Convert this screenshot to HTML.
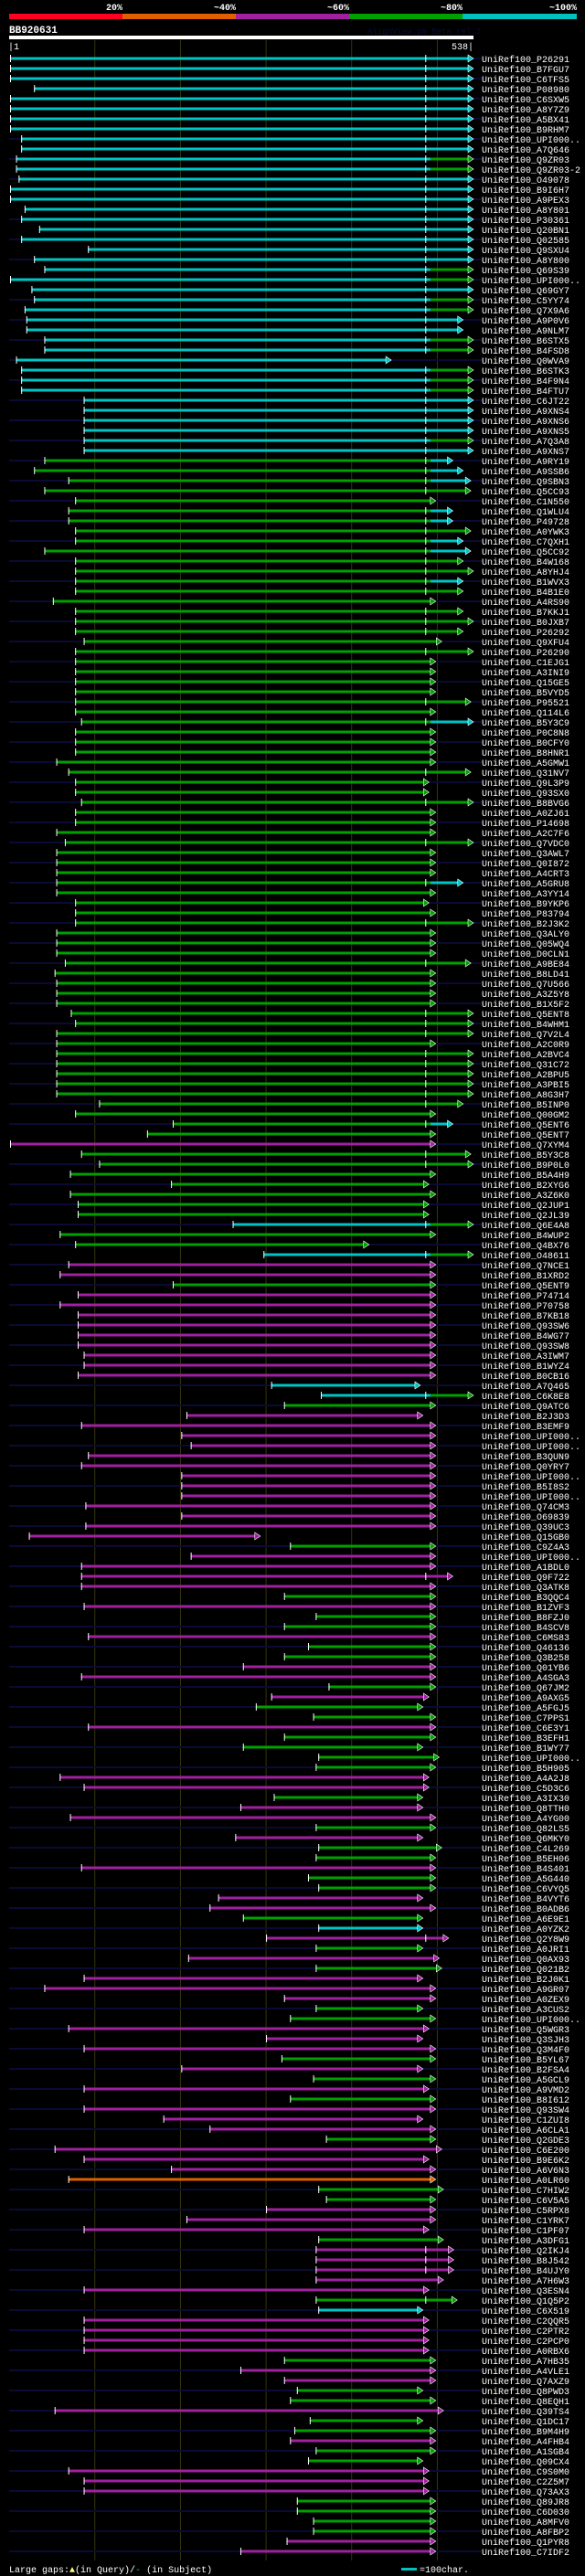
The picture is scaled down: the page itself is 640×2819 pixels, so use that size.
<!DOCTYPE html>
<html><head><meta charset="utf-8"><style>
html,body{margin:0;padding:0;background:#000;}
svg{display:block;}
text{font-family:"Liberation Mono",monospace;}
</style></head><body>
<svg id="chart" width="640" height="2819" viewBox="0 0 640 2819" xmlns="http://www.w3.org/2000/svg">
<rect width="640" height="2819" fill="#000"/>
<g>
<rect x="10" y="15" width="124" height="6" fill="#ff0020"/>
<rect x="134" y="15" width="124" height="6" fill="#e06000"/>
<rect x="258" y="15" width="124" height="6" fill="#a020a0"/>
<rect x="382" y="15" width="124" height="6" fill="#00a000"/>
<rect x="506" y="15" width="125" height="6" fill="#00c0c0"/>
<g fill="#fff" font-weight="bold" font-size="10" text-anchor="end">
<text x="134" y="11">20%</text>
<text x="258" y="11">~40%</text>
<text x="382" y="11">~60%</text>
<text x="506" y="11">~80%</text>
<text x="631" y="11">~100%</text>
</g></g>
<text x="10" y="36" fill="#fff" font-weight="bold" font-size="11">BB920631</text>
<text x="402" y="37" fill="#0a0a40" font-size="9">AlignView.pm Beta rel.7</text>
<rect x="10" y="39" width="508" height="4" fill="#fff"/>
<text x="9" y="54" fill="#fff" font-size="10">|1</text>
<text x="518" y="54" fill="#fff" font-size="10" text-anchor="end">538|</text>
<g id="grid"></g>
<g id="rows"></g>
<g>
<text x="10" y="2815" fill="#fff" font-size="10">Large gaps:<tspan fill="#ffff80">▲</tspan>(in Query)/<tspan fill="#00c0c0">-</tspan> (in Subject)</text>
<rect x="439" y="2810" width="17" height="3" fill="#00c0c0"/>
<text x="459" y="2815" fill="#fff" font-size="10">=100char.</text>
</g>
</svg>
<script>
const names = ["P26291","B7FGU7","C6TFS5","P08980","C6SXW5","A8Y7Z9","A5BX41","B9RHM7","UPI000..","A7Q646","Q9ZR03","Q9ZR03-2","O49078","B9I6H7","A9PEX3","A8Y801","P30361","Q20BN1","Q02585","Q9SXU4","A8Y800","Q69S39","UPI000..","Q69GY7","C5YY74","Q7X9A6","A9P0V6","A9NLM7","B6STX5","B4FSD8","Q0WVA9","B6STK3","B4F9N4","B4FTU7","C6JT22","A9XNS4","A9XNS6","A9XNS5","A7Q3A8","A9XNS7","A9RY19","A9SSB6","Q9SBN3","Q5CC93","C1N550","Q1WLU4","P49728","A0YWK3","C7QXH1","Q5CC92",
"B4W168","A8YHJ4","B1WVX3","B4B1E0","A4RS90","B7KKJ1","B0JXB7","P26292","Q9XFU4","P26290","C1EJG1","A3INI9","Q15GE5","B5VYD5","P95521","Q114L6","B5Y3C9","P0C8N8","B0CFY0","B8HNR1","A5GMW1","Q31NV7","Q9L3P9","Q93SX0","B8BVG6","A0ZJ61","P14698","A2C7F6","Q7VDC0","Q3AWL7","Q0I872","A4CRT3","A5GRU8","A3YY14","B9YKP6","P83794","B2J3K2","Q3ALY0","Q05WQ4","D0CLN1","A9BE84","B8LD41","Q7U566","A3Z5Y8","B1X5F2","Q5ENT8","B4WHM1","Q7V2L4","A2C0R9","A2BVC4","Q31C72",
"A2BPU5","A3PBI5","A8G3H7","B5INP0","Q00GM2","Q5ENT6","Q5ENT7","Q7XYM4","B5Y3C8","B9P0L0","B5A4H9","B2XYG6","A3Z6K0","Q2JUP1","Q2JL39","Q6E4A8","B4WUP2","Q4BX76","O48611","Q7NCE1","B1XRD2","Q5ENT9","P74714","P70758","B7KB18","Q93SW6","B4WG77","Q93SW8","A3IWM7","B1WYZ4","B0CB16","A7Q465","C6K8E8","Q9ATC6","B2J3D3","B3EMF9","UPI000..","UPI000..","B3QUN9","Q0YRY7","UPI000..","B5I8S2","UPI000..","Q74CM3","O69839","Q39UC3","Q15GB0","C9Z4A3","UPI000..","A1BDL0","Q9F722",
"Q3ATK8","B3QQC4","B1ZVF3","B8FZJ0","B4SCV8","C6MS83","Q46136","Q3B258","Q01YB6","A4SGA3","Q67JM2","A9AXG5","A5FGJ5","C7PPS1","C6E3Y1","B3EFH1","B1WY77","UPI000..","B5H905","A4A2J8","C5D3C6","A3IX30","Q8TTH0","A4YG00","Q82LS5","Q6MKY0","C4L269","B5EH06","B4S401","A5G440","C6VYQ5","B4VYT6","B0ADB6","A6E9E1","A0YZK2","Q2Y8W9","A0JRI1","Q0AX93","Q021B2","B2J0K1","A9GR07","A0ZEX9","A3CUS2","UPI000..","Q5WGR3","Q3SJH3","Q3M4F0","B5YL67","B2FSA4","A5GCL9",
"A9VMD2","B8I612","Q93SW4","C1ZUI8","A6CLA1","Q2GDE3","C6E200","B9E6K2","A6V6N3","A0LR60","C7HIW2","C6V5A5","C5RPX8","C1YRK7","C1PF07","A3DFG1","Q2IKJ4","B8J542","B4UJY0","A7H6W3","Q3ESN4","Q1Q5P2","C6X519","C2QQR5","C2PTR2","C2PCP0","A0RBX6","A7HB35","A4VLE1","Q7AXZ9","Q8PWD3","Q8EQH1","Q39TS4","Q1DC17","B9M4H9","A4FHB4","A1SGB4","Q09CX4","C9S0M0","C2Z5M7","Q73AX3","Q89JR8","C6D030","A8MFV0","A8FBP2","Q1PYR8","C7IDF2"];
const starts = [1,1,1,29,1,1,1,1,14,14,8,8,11,1,1,18,14,35,14,92,29,41,1,26,29,18,20,20,41,41,8,14,14,14,87,87,87,87,87,87,41,29,69,41,77,69,69,77,77,41,
77,77,77,77,51,77,77,77,87,77,77,77,77,77,77,77,84,77,77,77,55,69,77,77,84,77,77,55,65,55,55,55,55,55,77,77,77,55,55,55,65,53,55,55,55,72,77,55,55,55,55,
55,55,55,105,77,191,161,1,84,105,71,189,71,80,80,261,59,77,297,69,59,191,80,59,80,80,80,80,87,87,80,306,364,321,207,84,201,212,92,84,201,201,201,89,201,89,23,328,212,84,84,
84,321,87,358,321,92,349,321,273,84,373,306,288,355,92,321,273,361,358,59,87,309,270,71,358,264,361,358,84,349,361,244,234,273,361,300,358,209,358,87,41,321,358,328,69,300,87,318,201,355,
87,328,87,180,234,370,53,87,189,69,361,370,300,207,87,361,358,358,358,358,87,358,361,87,87,87,87,321,270,321,336,328,53,351,333,328,358,349,69,87,87,336,336,355,355,324,270];
const ends = [538,538,538,538,538,538,538,538,538,538,538,538,538,538,538,538,538,538,538,538,538,538,538,538,538,538,526,526,538,538,442,538,538,538,538,538,538,538,538,538,514,526,535,535,494,514,514,535,526,535,
526,538,526,526,494,526,538,526,501,538,494,494,494,494,535,494,538,494,494,494,494,535,486,486,538,494,494,494,538,494,494,494,526,494,486,494,538,494,494,494,535,494,494,494,494,538,538,538,494,538,538,
538,538,538,526,494,514,494,494,535,538,494,486,494,486,486,538,494,416,538,494,494,494,494,494,494,494,494,494,494,494,494,476,538,494,479,494,494,494,494,494,494,494,494,494,494,494,289,494,494,494,514,
494,494,494,494,494,494,494,494,494,494,494,486,479,494,494,494,479,498,494,486,486,479,479,494,494,479,501,494,494,494,494,479,494,479,479,509,479,498,501,479,494,494,479,494,486,479,494,494,479,494,
486,494,494,479,494,494,501,486,494,494,503,494,494,494,486,503,515,515,515,503,486,519,479,486,486,486,486,494,494,494,479,494,503,479,494,494,494,479,486,486,486,494,494,494,494,494,494];
const colorCodes = ["c","c","c","c","c","c","c","c","c","c","cg","cg","c","c","c","c","c","c","c","c","c","cg","cg","c","cg","cg","c","c","cg","cg","c","cg","cg","cg","c","c","c","c","cg","c","gc","gc","gc","g","g","gc","gc","g","gc","gc",
"g","g","gc","g","g","g","g","g","g","g","g","g","g","g","g","g","gc","g","g","g","g","g","g","g","g","g","g","g","g","g","g","g","gc","g","g","g","g","g","g","g","g","g","g","g","g","g","g","g","g","g","g",
"g","g","g","g","g","gc","g","m","g","g","g","g","g","g","g","cg","g","g","cg","m","m","g","m","m","m","m","m","m","m","m","m","c","cg","g","m","m","m","m","m","m","m","m","m","m","m","m","m","g","m","m","m",
"m","g","m","g","g","m","g","g","m","m","g","m","g","g","m","g","g","g","g","m","m","g","m","m","g","m","g","g","m","g","g","m","m","g","c","m","g","m","g","m","m","m","g","g","m","m","m","g","m","g",
"m","g","m","m","m","g","m","m","m","o","g","g","m","m","m","g","m","m","m","m","m","g","c","m","m","m","m","g","m","m","g","g","m","g","g","m","g","g","m","m","m","g","g","g","g","m","m"];
const ticks = [1,100,200,300,400,500];

const palette = {c:"#00c4c4", g:"#00a000", m:"#a020a0", o:"#e06000"};
const NS = "http://www.w3.org/2000/svg";
const X0 = 11, X1 = 514, QLEN = 538;
function xScale(r){ return X0 + (r - 1) * (X1 - X0) / (QLEN - 1); }
function yScale(i){ return 64 + i * 11; }
function mk(tag, attrs, parent){ const e = document.createElementNS(NS, tag); for (const k in attrs) e.setAttribute(k, attrs[k]); parent.appendChild(e); return e; }

const grid = document.getElementById('grid');
ticks.slice(1).forEach(t => {
  const l = mk('line', {x1: xScale(t), x2: xScale(t), y1: 44, y2: 2802, stroke: '#353510', 'stroke-width': 1}, grid);
  
  
});

const rowsG = document.getElementById('rows');
names.forEach((nm, i) => {
  const y = yScale(i);
  const g = mk('g', {}, rowsG);
  
  
  const xs = xScale(starts[i]), xe = xScale(ends[i]);
  if (i % 2 === 0) {
    mk('rect', {x: 10, y: y - 1, width: 517, height: 2, fill: '#0a0a34'}, g);
  }
  const code = colorCodes[i];
  const c1 = palette[code[0]], c2 = palette[code[code.length - 1]];
  const split = xScale(492);
  if (code.length > 1 && xe > split) {
    mk('rect', {x: xs, y: y - 1.5, width: split - xs, height: 3, fill: c1}, g);
    mk('rect', {x: split, y: y - 1.5, width: xe - split, height: 3, fill: c2}, g);
  } else {
    const bar = mk('rect', {x: xs, y: y - 1.5, width: xe - xs, height: 3, fill: c1}, g);
    
    
  }
  mk('rect', {x: xs, y: y - 4, width: 1, height: 8, fill: '#fff'}, g);
  if (ends[i] >= 505 && starts[i] < 480) {
    mk('rect', {x: xScale(486), y: y - 4, width: 1, height: 8, fill: '#fff'}, g);
  }
  mk('polygon', {points: (xe - 2) + ',' + (y - 4) + ' ' + (xe + 4) + ',' + y + ' ' + (xe - 2) + ',' + (y + 4), fill: c2, stroke: '#fff', 'stroke-width': 0.6}, g);
  const t = mk('text', {x: 527, y: y + 4, fill: '#fff', 'font-size': 10}, g);
  t.textContent = 'UniRef100_' + nm;
  
  
});
</script>
</body></html>
